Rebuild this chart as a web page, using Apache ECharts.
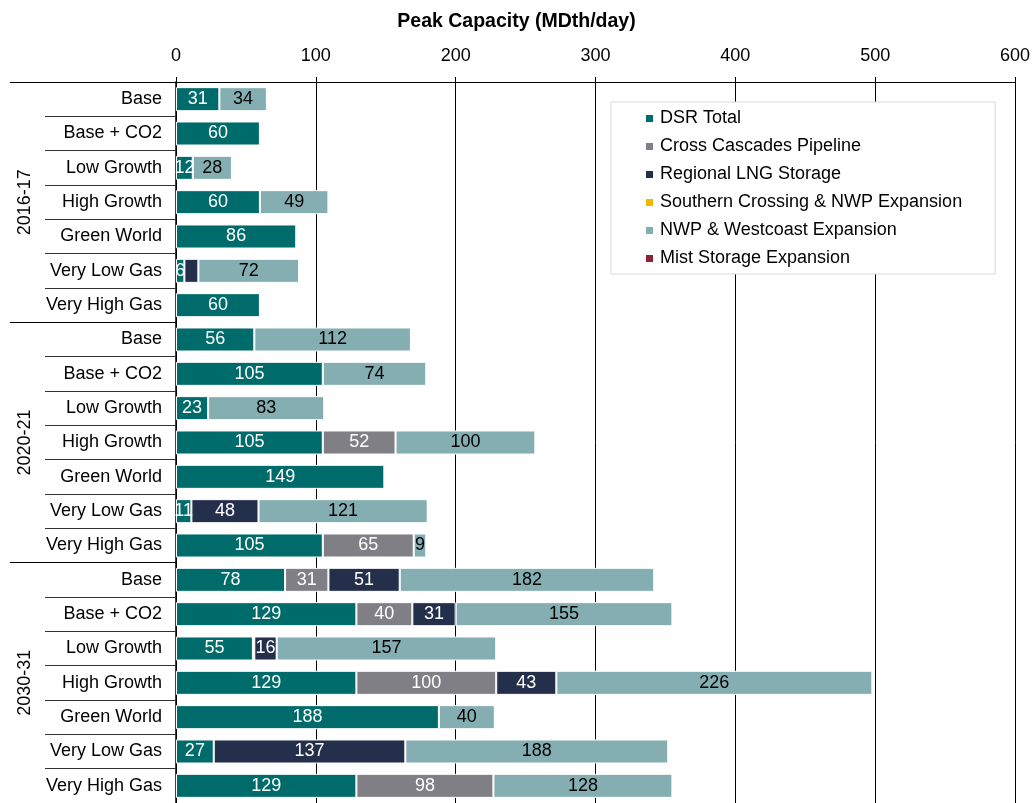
<!DOCTYPE html>
<html>
<head>
<meta charset="utf-8">
<script src="https://cdn.jsdelivr.net/npm/echarts@6/dist/echarts.min.js"></script>
<style>
html,body{margin:0;padding:0;background:#fff;}
#chart{width:1033px;height:803px;}
</style>
</head>
<body>
<div id="chart"></div>
<script>
const groups = ['2016-17', '2020-21', '2030-31'];
const scenarios = ['Base', 'Base + CO2', 'Low Growth', 'High Growth', 'Green World', 'Very Low Gas', 'Very High Gas'];
const xTicks = [0, 100, 200, 300, 400, 500, 600];

const seriesNames = ['DSR Total', 'Cross Cascades Pipeline', 'Regional LNG Storage', 'Southern Crossing & NWP Expansion', 'NWP & Westcoast Expansion', 'Mist Storage Expansion'];
const seriesColors = ['#006B6B', '#807F85', '#232F4B', '#F2B800', '#85AEB2', '#8C2232'];
const labelColors = ['#ffffff', '#ffffff', '#ffffff', '#000000', '#000000', '#ffffff'];

const dsrTotal = [31, 60, 12, 60, 86, 6, 60, 56, 105, 23, 105, 149, 11, 105, 78, 129, 55, 129, 188, 27, 129];
const crossCascades = [0, 0, 0, 0, 0, 0, 0, 0, 0, 0, 52, 0, 0, 65, 31, 40, 1, 100, 0, 0, 98];
const regionalLNG = [0, 0, 0, 0, 0, 10, 0, 0, 0, 0, 0, 0, 48, 0, 51, 31, 16, 43, 0, 137, 0];
const southernCrossing = [0, 0, 0, 0, 0, 0, 0, 0, 0, 0, 0, 0, 0, 0, 0, 0, 0, 0, 0, 0, 0];
const nwpWestcoast = [34, 0, 28, 49, 0, 72, 0, 112, 74, 83, 100, 0, 121, 9, 182, 155, 157, 226, 40, 188, 128];
const mistStorage = [0, 0, 0, 0, 0, 0, 0, 0, 0, 0, 0, 0, 0, 0, 0, 0, 0, 0, 0, 0, 0];
// labels not displayed in the reference
const hiddenLabelMin = [0, 2, 11, 0, 0, 0];

const seriesValues = [dsrTotal, crossCascades, regionalLNG, southernCrossing, nwpWestcoast, mistStorage];

const categories = [];
groups.forEach(g => scenarios.forEach(s => categories.push(s)));

const FONT = 'Liberation Sans, Arial, sans-serif';
const FS = 18;

const series = seriesNames.map((name, i) => ({
  name: name,
  type: 'bar',
  stack: 'total',
  barCategoryGap: '30%',
  itemStyle: { color: seriesColors[i], borderColor: '#ffffff', borderWidth: 1 },
  label: {
    show: true,
    position: 'inside',
    color: labelColors[i],
    fontSize: FS,
    fontFamily: FONT,
    formatter: p => (p.value && p.value >= hiddenLabelMin[i]) ? String(p.value) : ''
  },
  emphasis: { disabled: true },
  data: seriesValues[i].map(v => v === 0 ? null : v)
}));

const chart = echarts.init(document.getElementById('chart'), null, { renderer: 'canvas' });
chart.setOption({
  animation: false,
  backgroundColor: '#ffffff',
  textStyle: { fontFamily: FONT },
  title: {
    text: 'Peak Capacity (MDth/day)',
    left: 'center',
    top: 7,
    textStyle: { fontSize: 19.5, fontWeight: 'bold', color: '#000', fontFamily: FONT }
  },
  legend: {
    orient: 'vertical',
    left: 611,
    top: 102,
    backgroundColor: '#ffffff',
    borderColor: '#d9d9d9',
    borderWidth: 1,
    padding: [6, 33, 5, 33],
    itemGap: 7,
    itemWidth: 9,
    itemHeight: 9,
    icon: 'rect',
    textStyle: { fontSize: FS, color: '#000', fontFamily: FONT, padding: [0, 0, 0, 1], lineHeight: 21 },
    data: seriesNames
  },
  grid: { left: 176, right: 17, top: 82, height: 722 },
  xAxis: {
    type: 'value',
    position: 'top',
    min: 0,
    max: 600,
    interval: 100,
    axisLine: { show: true, lineStyle: { color: '#000', width: 1 } },
    axisTick: { show: true, length: 5, lineStyle: { color: '#000' } },
    axisLabel: {
      margin: 17, fontSize: FS, color: '#000', fontFamily: FONT,
      formatter: v => xTicks.indexOf(v) >= 0 ? String(v) : ''
    },
    splitLine: { show: true, lineStyle: { color: '#000', width: 1 } }
  },
  yAxis: [
    {
      type: 'category',
      inverse: true,
      data: categories,
      axisLine: { show: true, lineStyle: { color: '#000', width: 1.5 } },
      axisTick: { show: true, length: 131, lineStyle: { color: '#333', width: 1 } },
      axisLabel: { margin: 14, fontSize: FS, color: '#000', fontFamily: FONT, interval: 0 },
      splitLine: { show: false }
    },
    {
      type: 'category',
      inverse: true,
      position: 'left',
      data: groups,
      axisLine: { show: false },
      axisTick: { show: true, length: 166, lineStyle: { color: '#000', width: 1 } },
      axisLabel: { margin: 142, rotate: 90, fontSize: FS, color: '#000', fontFamily: FONT, interval: 0 },
      splitLine: { show: false }
    }
  ],
  series: series
});
</script>
</body>
</html>
